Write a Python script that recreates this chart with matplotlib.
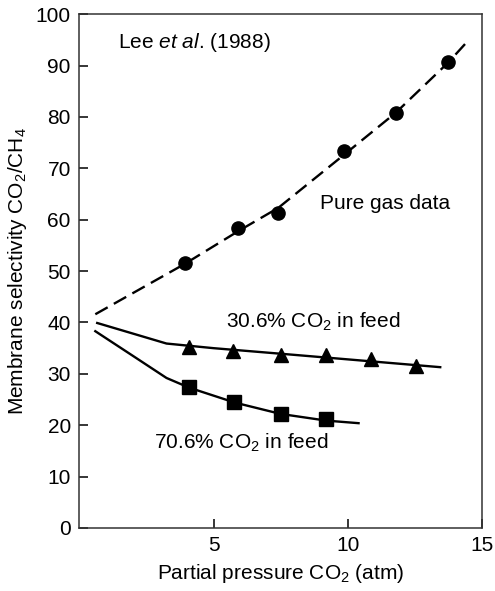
import numpy as np
import matplotlib
matplotlib.use("Agg")
import matplotlib.pyplot as plt

plt.rcParams['font.family'] = ['Liberation Sans', 'DejaVu Sans']
plt.rcParams['mathtext.fontset'] = 'custom'
plt.rcParams['mathtext.rm'] = 'Liberation Sans'
plt.rcParams['mathtext.it'] = 'Liberation Sans:italic'

# pure gas selectivity (circles) and its dashed guide curve
pure_p = [3.93, 5.93, 7.41, 9.85, 11.78, 13.74]
pure_sel = [51.6, 58.4, 61.3, 73.3, 80.8, 90.7]
pure_curve_p = [0.6, 3.93, 5.93, 7.41, 9.85, 11.78, 13.74, 14.4]
pure_curve_sel = [41.6, 51.4, 57.8, 62.3, 72.6, 80.8, 90.6, 94.4]

# 30.6% CO2 feed (triangles)
feed30_p = [4.07, 5.74, 7.52, 9.19, 10.85, 12.52]
feed30_sel = [35.2, 34.4, 33.7, 33.6, 32.9, 31.6]
feed30_curve_p = [0.67, 3.25, 5.0, 8.0, 13.44]
feed30_curve_sel = [39.9, 35.9, 35.0, 33.7, 31.3]

# 70.6% CO2 feed (squares)
feed70_p = [4.07, 5.78, 7.52, 9.19]
feed70_sel = [27.4, 24.5, 22.2, 21.2]
feed70_curve_p = [0.6, 2.0, 3.25, 4.1, 5.8, 7.5, 9.2, 10.4]
feed70_curve_sel = [38.3, 33.5, 29.2, 27.3, 24.4, 22.2, 20.9, 20.4]

fig = plt.figure(figsize=(4.95, 5.91), dpi=100)
ax = fig.add_axes([0.160, 0.1066, 0.814, 0.8694])

ax.plot(pure_curve_p, pure_curve_sel, color='black', lw=1.7, dashes=(6, 3))
ax.plot(pure_p, pure_sel, 'o', color='black', ms=9.5)

ax.plot(feed30_curve_p, feed30_curve_sel, color='black', lw=1.7)
ax.plot(feed30_p, feed30_sel, '^', color='black', ms=10.5)

ax.plot(feed70_curve_p, feed70_curve_sel, color='black', lw=1.7)
ax.plot(feed70_p, feed70_sel, 's', color='black', ms=9.5)

fs = 15
ax.text(1.44, 94.4, r'Lee $\mathit{et\ al}$. (1988)', fontsize=fs, va='center')
ax.text(8.96, 63.2, 'Pure gas data', fontsize=fs, va='center')
ax.text(5.48, 40.1, r'30.6% CO$_2$ in feed', fontsize=fs, va='center')
ax.text(2.78, 16.5, r'70.6% CO$_2$ in feed', fontsize=fs, va='center')

ax.set_xlim(0, 15)
ax.set_ylim(0, 100)
ax.set_xticks([5, 10, 15])
ax.set_yticks(np.arange(0, 101, 10))
ax.tick_params(direction='in', length=6.5, width=1.1, labelsize=fs, pad=6)
for s in ax.spines.values():
    s.set_linewidth(1.1)
    s.set_color('#333333')

ax.set_xlabel(r'Partial pressure CO$_2$ (atm)', fontsize=fs, labelpad=5)
ax.set_ylabel(r'Membrane selectivity CO$_2$/CH$_4$', fontsize=fs, labelpad=5)

fig.savefig('out.png', dpi=100)
